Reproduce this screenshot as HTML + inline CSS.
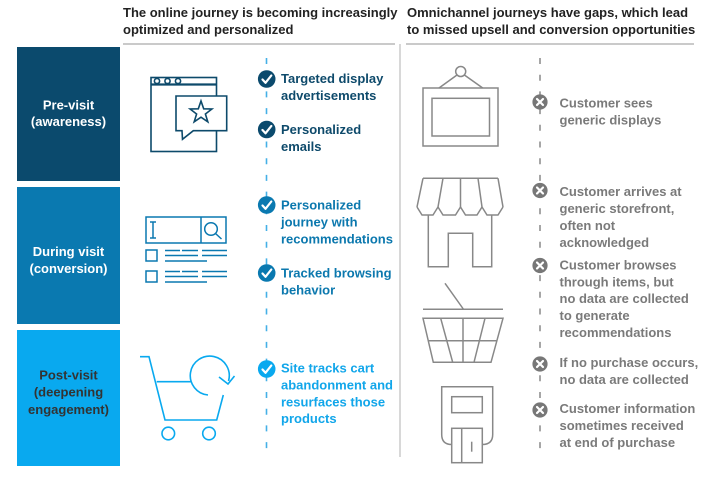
<!DOCTYPE html>
<html><head><meta charset="utf-8"><style>
html,body{margin:0;padding:0;background:#fff;}
svg{display:block;}
text{font-family:"Liberation Sans",Arial,sans-serif;font-weight:bold;font-size:13px;}
</style></head><body>
<svg width="720" height="480" viewBox="0 0 720 480" xmlns="http://www.w3.org/2000/svg">
<!-- headers -->
<g fill="#222">
<text x="123" y="17">The online journey is becoming increasingly</text>
<text x="123" y="34">optimized and personalized</text>
<text x="407" y="17">Omnichannel journeys have gaps, which lead</text>
<text x="407" y="34">to missed upsell and conversion opportunities</text>
</g>
<line x1="123" y1="44" x2="395" y2="44" stroke="#aaa" stroke-width="1.3"/>
<line x1="406" y1="44" x2="694" y2="44" stroke="#aaa" stroke-width="1.3"/>
<line x1="400" y1="44" x2="400" y2="457" stroke="#ccc" stroke-width="1.5"/>

<!-- left boxes -->
<rect x="17" y="47" width="103" height="134" fill="#0b4a6d"/>
<rect x="17" y="187" width="103" height="137" fill="#0a79b0"/>
<rect x="17" y="330" width="103" height="136" fill="#09a9ef"/>
<g text-anchor="middle" style="font-size:15px">
<text x="68.5" y="109.5" fill="#fff">Pre-visit</text>
<text x="68.5" y="126" fill="#fff">(awareness)</text>
<text x="68.5" y="256" fill="#fff">During visit</text>
<text x="68.5" y="273" fill="#fff">(conversion)</text>
<text x="68.5" y="379.5" fill="#333">Post-visit</text>
<text x="68.5" y="396.5" fill="#333">(deepening</text>
<text x="68.5" y="414" fill="#333">engagement)</text>
</g>

<!-- dashed lines -->
<line x1="266.5" y1="58" x2="266.5" y2="458" stroke="#45b0e6" stroke-width="1.6" stroke-dasharray="6 10.7"/>
<line x1="540" y1="58" x2="540" y2="458" stroke="#888" stroke-width="1.5" stroke-dasharray="6 10.7"/>

<!-- browser icon -->
<g fill="none" stroke="#0d4a6b" stroke-width="1.6">
<rect x="151" y="77.5" width="65.5" height="74"/>
<line x1="151" y1="84.5" x2="216.5" y2="84.5" stroke-width="2.2"/>
<circle cx="157" cy="81" r="2.6"/>
<circle cx="167.5" cy="81" r="2.6"/>
<circle cx="178" cy="81" r="2.6"/>
<path d="M182,130.7 L176,130.7 L176,96 L226.7,96 L226.7,130.7 L193.3,130.7 L182.5,139.3 Z" fill="#fff"/>
<path d="M201,101 L203.7,108.8 L211.9,109 L205.4,114 L207.8,121.8 L201,117.2 L194.2,121.8 L196.6,114 L190.1,109 L198.3,108.8 Z"/>
</g>

<!-- search icon -->
<g fill="none" stroke="#0a78b0" stroke-width="1.5">
<rect x="146" y="217" width="80" height="26"/>
<line x1="201" y1="217" x2="201" y2="243"/>
<line x1="153" y1="222" x2="153" y2="238"/>
<line x1="150" y1="222" x2="156" y2="222"/>
<line x1="150" y1="238" x2="156" y2="238"/>
<circle cx="211" cy="229" r="6.3"/>
<line x1="215.5" y1="233.5" x2="221.5" y2="239"/>
<rect x="146" y="250" width="11" height="11"/>
<rect x="146" y="271" width="11" height="11"/>
<path d="M165,250.5H180 M182,250.5H198 M202,250.5H227 M165,255.5H198 M202,255.5H227 M165,261H207"/>
<path d="M165,271.5H180 M182,271.5H198 M202,271.5H227 M165,276.5H198 M202,276.5H227 M165,282H207"/>
</g>

<!-- cart icon -->
<g fill="none" stroke="#09a9ef" stroke-width="1.6">
<path d="M140,356.7 L149,356.7 L165,420 L216.7,420 L223.3,395"/>
<line x1="156.7" y1="381.7" x2="191" y2="381.7"/>
<path d="M208,395 A19.5,19.5 0 1 1 228.5,381"/>
<path d="M219,377 L228,384 L234.5,376"/>
<circle cx="168.3" cy="433.5" r="6.3"/>
<circle cx="209" cy="433.5" r="6.3"/>
</g>

<!-- checks -->
<g>
<circle cx="266.7" cy="79" r="8.8" fill="#0b4a6d"/>
<circle cx="266.7" cy="129.5" r="8.8" fill="#0b4a6d"/>
<circle cx="266.7" cy="205" r="8.8" fill="#0a79b0"/>
<circle cx="266.7" cy="273" r="8.8" fill="#0a79b0"/>
<circle cx="266.7" cy="369" r="8.8" fill="#09a9ef"/>
</g>
<g fill="none" stroke="#fff" stroke-width="2.2" stroke-linecap="round" stroke-linejoin="round">
<path d="M262.5,79.5 L265.5,82.8 L271.3,75.5"/>
<path d="M262.5,130 L265.5,133.3 L271.3,126"/>
<path d="M262.5,205.5 L265.5,208.8 L271.3,201.5"/>
<path d="M262.5,273.5 L265.5,276.8 L271.3,269.5"/>
<path d="M262.5,369.5 L265.5,372.8 L271.3,365.5"/>
</g>

<!-- left texts -->
<g fill="#0e4a6b">
<text x="281" y="83">Targeted display</text>
<text x="281" y="100">advertisements</text>
<text x="281" y="134">Personalized</text>
<text x="281" y="151">emails</text>
</g>
<g fill="#0b78ae">
<text x="281" y="209.5">Personalized</text>
<text x="281" y="226.5">journey with</text>
<text x="281" y="243.5">recommendations</text>
<text x="281" y="277.5">Tracked browsing</text>
<text x="281" y="294.5">behavior</text>
</g>
<g fill="#11a6ea">
<text x="281" y="372.5">Site tracks cart</text>
<text x="281" y="389.5">abandonment and</text>
<text x="281" y="406.5">resurfaces those</text>
<text x="281" y="423">products</text>
</g>

<!-- gray icons -->
<g fill="none" stroke="#888" stroke-width="1.5">
<!-- frame -->
<rect x="423" y="88" width="75" height="58"/>
<rect x="432" y="98.3" width="57.5" height="37.7"/>
<circle cx="460.7" cy="71.5" r="5"/>
<line x1="439" y1="88" x2="457" y2="75"/>
<line x1="464.4" y1="75" x2="482.7" y2="88"/>
<!-- storefront -->
<path d="M423,178.3 L498,178.3 M423,178.3 L417,207 M498,178.3 L503,207 M443,178.3 L438,207 M460.5,178.3 L460.5,207 M478,178.3 L482,207"/>
<path d="M417,207 L422,215 L433,215 L438,207 M438,207 L443,215 L455.5,215 L460.5,207 M460.5,207 L465.5,215 L477,215 L482,207 M482,207 L487,215 L498,215 L503,207"/>
<path d="M428.3,215 L428.3,266.7 L448.3,266.7 L448.3,233.3 L472.7,233.3 L472.7,266.7 L491.7,266.7 L491.7,215"/>
<!-- basket -->
<line x1="445" y1="283.3" x2="463.3" y2="309"/>
<line x1="423" y1="309.3" x2="503" y2="309.3"/>
<path d="M423,318.3 L503,318.3 L491,362.3 L433.3,362.3 Z"/>
<line x1="428" y1="340.7" x2="497" y2="340.7"/>
<line x1="463" y1="318.3" x2="463" y2="362.3"/>
<line x1="440.7" y1="318.3" x2="452.7" y2="362.3"/>
<line x1="485" y1="318.3" x2="474" y2="362.3"/>
<!-- POS -->
<path d="M451.7,444.5 Q441.7,444.5 441.7,434.5 L441.7,386.7 L492.7,386.7 L492.7,434.5 Q492.7,444.5 482.3,444.5"/>
<rect x="451.7" y="396.7" width="30.6" height="16"/>
<rect x="451.7" y="428.3" width="30.6" height="34.4"/>
<line x1="461.7" y1="428.3" x2="461.7" y2="462.7"/>
<line x1="471.7" y1="441.7" x2="471.7" y2="451.7"/>
</g>

<!-- X icons -->
<g fill="#777">
<circle cx="540" cy="102" r="7.6"/>
<circle cx="540" cy="190.5" r="7.6"/>
<circle cx="540" cy="265.5" r="7.6"/>
<circle cx="540" cy="364" r="7.6"/>
<circle cx="540" cy="410" r="7.6"/>
</g>
<g stroke="#fff" stroke-width="2.2" stroke-linecap="round">
<path d="M537,99 L543,105 M543,99 L537,105"/>
<path d="M537,187.5 L543,193.5 M543,187.5 L537,193.5"/>
<path d="M537,262.5 L543,268.5 M543,262.5 L537,268.5"/>
<path d="M537,361 L543,367 M543,361 L537,367"/>
<path d="M537,407 L543,413 M543,407 L537,413"/>
</g>

<!-- right texts -->
<g fill="#7a7a7a">
<text x="559.5" y="107.5">Customer sees</text>
<text x="559.5" y="124.5">generic displays</text>
<text x="559.5" y="196">Customer arrives at</text>
<text x="559.5" y="213">generic storefront,</text>
<text x="559.5" y="230">often not</text>
<text x="559.5" y="247">acknowledged</text>
<text x="559.5" y="269.5">Customer browses</text>
<text x="559.5" y="286.5">through items, but</text>
<text x="559.5" y="303">no data are collected</text>
<text x="559.5" y="320">to generate</text>
<text x="559.5" y="337">recommendations</text>
<text x="559.5" y="367">If no purchase occurs,</text>
<text x="559.5" y="384">no data are collected</text>
<text x="559.5" y="413">Customer information</text>
<text x="559.5" y="430">sometimes received</text>
<text x="559.5" y="447">at end of purchase</text>
</g>
</svg>
</body></html>
